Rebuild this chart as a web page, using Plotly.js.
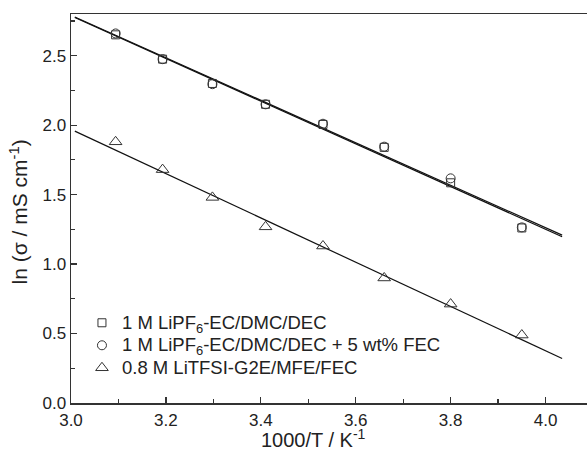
<!DOCTYPE html>
<html>
<head>
<meta charset="utf-8">
<script src="https://cdn.plot.ly/plotly-3.0.1.min.js"></script>
<style>
html,body{margin:0;padding:0;overflow:hidden;background:#fff;width:587px;height:450px;}
#chart{width:604px;height:450px;}
</style>
</head>
<body>
<div id="chart"></div>
<script>
// 1000/T values (K^-1)
const invT = [3.094, 3.193, 3.298, 3.410, 3.531, 3.660, 3.800, 3.950];
// ln(sigma / mS cm^-1)
const lipf6 = [2.650, 2.475, 2.300, 2.150, 2.005, 1.840, 1.585, 1.260];
const lipf6Fec = [2.660, 2.475, 2.295, 2.150, 2.010, 1.845, 1.617, 1.264];
const litfsi = [1.880, 1.680, 1.480, 1.268, 1.130, 0.900, 0.712, 0.489];
// fitted line end points
const fitX = [3.008, 4.035];
const fitLipf6 = [2.775, 1.197];
const fitLipf6Fec = [2.778, 1.208];
const fitLitfsi = [1.957, 0.320];
const names = [
  '1 M LiPF<sub>6</sub>-EC/DMC/DEC',
  '1 M LiPF<sub>6</sub>-EC/DMC/DEC + 5 wt% FEC',
  '0.8 M LiTFSI-G2E/MFE/FEC'
];
const xTicks = [3.0, 3.2, 3.4, 3.6, 3.8, 4.0];
const yTicks = [0.0, 0.5, 1.0, 1.5, 2.0, 2.5];

const mk = (sym, size) => ({symbol: sym, size: size, color: '#333', line: {color: '#333', width: 1}});
const lineStyle = {color: '#111', width: 1.2};
const big = s => '<span style="font-size:18.5px">' + s + '</span>';

const traces = [
  {x: fitX, y: fitLipf6, mode: 'lines', line: lineStyle, showlegend: false, hoverinfo: 'skip'},
  {x: fitX, y: fitLipf6Fec, mode: 'lines', line: lineStyle, showlegend: false, hoverinfo: 'skip'},
  {x: fitX, y: fitLitfsi, mode: 'lines', line: lineStyle, showlegend: false, hoverinfo: 'skip'},
  {x: invT, y: lipf6, mode: 'markers', name: big(names[0]), legendgroup: 'a', marker: mk('square-open', 8)},
  {x: invT, y: lipf6Fec, mode: 'markers', name: big(names[1]), legendgroup: 'b', marker: mk('circle-open', 9)},
  {x: invT, y: litfsi, mode: 'markers', name: big(names[2]), legendgroup: 'c', marker: mk('triangle-up-open', 11)}
];

const font = {family: 'Liberation Sans, Arial, sans-serif', color: '#222'};
const layout = {
  width: 604, height: 450,
  margin: {l: 71, r: 10.5, t: 14, b: 47},
  paper_bgcolor: '#fff', plot_bgcolor: '#fff',
  font: Object.assign({size: 17}, font),
  showlegend: true,
  legend: {
    x: 0.021, y: 0.248, xanchor: 'left', yanchor: 'top',
    bgcolor: 'rgba(0,0,0,0)', borderwidth: 0,
    font: Object.assign({size: 15}, font),
    tracegroupgap: 0, traceorder: 'normal'
  },
  xaxis: {
    range: [3.0, 4.1], tickvals: xTicks, ticktext: xTicks.map(v => v.toFixed(1)),
    ticks: 'inside', ticklen: 6, tickwidth: 1.2, tickcolor: '#333',
    minor: {dtick: 0.1, ticks: 'inside', ticklen: 4, tickwidth: 1.2, tickcolor: '#333'},
    showline: true, linecolor: '#333', linewidth: 1.5, mirror: true,
    showgrid: false, zeroline: false, ticklabelstandoff: 1,
    tickfont: Object.assign({size: 17}, font)
  },
  yaxis: {
    range: [0, 2.8], tickvals: yTicks, ticktext: yTicks.map(v => v.toFixed(1)),
    ticks: 'inside', ticklen: 6, tickwidth: 1.2, tickcolor: '#333',
    minor: {dtick: 0.25, ticks: 'inside', ticklen: 4, tickwidth: 1.2, tickcolor: '#333'},
    showline: true, linecolor: '#333', linewidth: 1.5, mirror: true,
    showgrid: false, zeroline: false,
    tickfont: Object.assign({size: 17}, font)
  },
  annotations: [
    {text: '1000/T / K<sup>-1</sup>', xref: 'paper', yref: 'paper', x: (314 - 71) / 522.5, y: 0,
     yshift: -35, xanchor: 'center', yanchor: 'middle', showarrow: false,
     font: Object.assign({size: 20}, font)},
    {text: 'ln (σ / mS cm<sup>-1</sup>)', xref: 'paper', yref: 'paper', x: 0, y: 0.49,
     xshift: -52, xanchor: 'center', yanchor: 'middle', textangle: -90, showarrow: false,
     font: Object.assign({size: 21}, font)}
  ]
};

Plotly.newPlot('chart', traces, layout, {displayModeBar: false, staticPlot: true});
</script>
</body>
</html>
